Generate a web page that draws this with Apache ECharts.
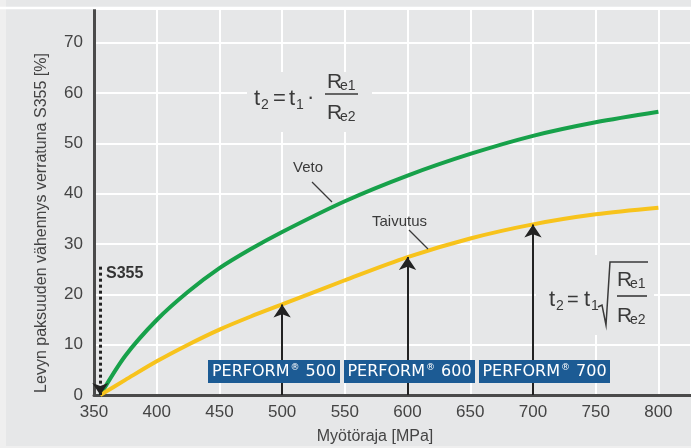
<!DOCTYPE html>
<html><head><meta charset="utf-8">
<script src="https://cdn.jsdelivr.net/npm/echarts@6/dist/echarts.min.js"></script>
<style>html,body{margin:0;padding:0;background:#e6e7e8}#c{width:691px;height:448px}</style>
</head><body><div id="c"></div>
<script>
// ---- data ----
const strength = [355, 375, 400, 425, 450, 475, 500, 550, 600, 650, 700, 750, 800];   // Myötöraja [MPa]
const veto     = [0, 7.8, 14.9, 20.5, 25.2, 29.0, 32.4, 38.5, 43.6, 47.9, 51.5, 54.2, 56.3];
const taivutus = [0, 3.0, 6.7, 10.0, 13.0, 15.6, 18.0, 22.8, 27.4, 31.1, 33.9, 35.9, 37.2];
const performGrades = [500, 600, 700];
const s355Grade = 355;
const s355Top = 25.5;

const FONT = "'Liberation Sans', Arial, sans-serif";
const NARROW = "'Liberation Sans Narrow', 'Liberation Sans', Arial, sans-serif";
const BG = '#e6e7e8';
const TXT = '#3a3a3a';

const chart = echarts.init(document.getElementById('c'), null, {renderer: 'canvas'});

function txt(x, y, s, size, opts) {
  return {
    type: 'text', z: 20, silent: true,
    style: Object.assign({x: x, y: y, text: s, fontSize: size, fontFamily: NARROW, fill: TXT,
      verticalAlign: 'middle', align: 'left'}, (opts && opts.style) || {})
  };
}
function line(x1, y1, x2, y2, w, c) {
  return {type: 'line', z: 20, silent: true, shape: {x1, y1, x2, y2}, style: {stroke: c || TXT, lineWidth: w || 1.5}};
}

const tipOf = g => taivutus[strength.indexOf(g)];

const boxes = [
  {x: 208, w: 132, label: '500'},
  {x: 344, w: 131, label: '600'},
  {x: 479, w: 131, label: '700'}
];

const graphics = [
  {type: 'rect', z: 0, silent: true, shape: {x: 0, y: 0, width: 6, height: 448}, style: {fill: '#efefef'}},
  {type: 'rect', z: 0, silent: true, shape: {x: 0, y: 446, width: 691, height: 2}, style: {fill: '#efefef'}},
  line(0, 8, 691, 8, 2.5, '#ffffff'),
  // masks behind formulas
  {type: 'rect', z: 1, silent: true, shape: {x: 247, y: 72, width: 125, height: 60}, style: {fill: BG}},
  {type: 'rect', z: 1, silent: true, shape: {x: 536, y: 255, width: 118, height: 80}, style: {fill: BG}},
  // formula 1
  txt(254, 99, 't', 22), txt(261, 105, '2', 14), txt(273, 99, '=', 22), txt(289, 99, 't', 22),
  txt(296, 105, '1', 14), txt(307, 98, '·', 22),
  line(325, 94, 358, 94, 1.6),
  txt(327, 82, 'R', 21), txt(340, 86, 'e1', 14),
  txt(327, 113, 'R', 21), txt(340, 117, 'e2', 14),
  // formula 2
  txt(549, 300, 't', 22), txt(556, 306, '2', 14), txt(567, 300, '=', 20), txt(584, 300, 't', 22),
  txt(591, 306, '1', 14),
  {type: 'polyline', z: 20, silent: true, shape: {points: [[598, 307], [602, 305], [606, 325], [610, 262], [648, 262]]},
    style: {stroke: TXT, lineWidth: 1.5, fill: null}},
  line(617, 296, 647, 296, 1.6),
  txt(617, 280, 'R', 21), txt(630, 284, 'e1', 14),
  txt(617, 316, 'R', 21), txt(630, 320, 'e2', 14),
  // curve labels with leaders
  txt(293, 168, 'Veto', 15),
  line(312, 182, 332, 202, 1.2),
  txt(372, 222, 'Taivutus', 15),
  line(409, 230, 428, 249, 1.2),
  // S355
  txt(106, 274, 'S355', 16, {style: {fontFamily: FONT, fontWeight: 'bold', fill: '#333'}}),
  // axis names
  {type: 'text', z: 20, silent: true, rotation: Math.PI / 2, x: 42, y: 223,
    style: {x: 0, y: 0, text: 'Levyn paksuuden vähennys verratuna S355 [%]', fontSize: 16, fontFamily: FONT,
      fill: '#444', align: 'center', verticalAlign: 'middle'}},
  {type: 'text', z: 20, silent: true,
    style: {x: 375, y: 437, text: 'Myötöraja [MPa]', fontSize: 16, fontFamily: FONT,
      fill: '#444', align: 'center', verticalAlign: 'middle'}}
];

boxes.forEach(b => {
  graphics.push({type: 'rect', z: 25, silent: true, shape: {x: b.x, y: 360, width: b.w, height: 23},
    style: {fill: '#1c5b94'}});
  graphics.push({type: 'text', z: 26, silent: true, style: {
    x: b.x + b.w / 2, y: 372, align: 'center', verticalAlign: 'middle',
    text: '{a|PERFORM}{s|®}{a| ' + b.label + '}',
    rich: {
      a: {fontSize: 16, fontFamily: "'DejaVu Sans', sans-serif", fill: '#ffffff', lineHeight: 18},
      s: {fontSize: 9, fontFamily: "'DejaVu Sans', sans-serif", fill: '#ffffff', verticalAlign: 'top', lineHeight: 18, padding: [0, 1, 0, 1]}
    }
  }});
});

const option = {
  animation: false,
  backgroundColor: BG,
  grid: {left: 94, right: 0, top: 9, bottom: 53, containLabel: false},
  xAxis: {
    type: 'value', min: 350, max: 826, interval: 50,
    axisLine: {show: true, lineStyle: {color: '#4a4a4a', width: 3}},
    axisTick: {show: false},
    axisLabel: {fontSize: 17, color: '#444', fontFamily: FONT, margin: 9, showMaxLabel: false},
    splitLine: {show: true, lineStyle: {color: '#ffffff', width: 2}}
  },
  yAxis: {
    type: 'value', min: 0, max: 76.7, interval: 10,
    axisLine: {show: true, lineStyle: {color: '#4a4a4a', width: 3}},
    axisTick: {show: false},
    axisLabel: {fontSize: 17, color: '#444', fontFamily: FONT, margin: 11, showMaxLabel: false},
    splitLine: {show: true, lineStyle: {color: '#ffffff', width: 2}}
  },
  series: [
    {
      name: 'Veto', type: 'line', smooth: 0.3, symbol: 'none', z: 3,
      data: strength.map((x, i) => [x, veto[i]]),
      lineStyle: {color: '#17a14a', width: 4},
      markLine: {
        silent: true, animation: false, symbol: ['none', 'arrow'], symbolSize: 12,
        label: {show: false},
        lineStyle: {color: '#222', width: 3, type: 'dotted'},
        data: [[{coord: [s355Grade, s355Top]}, {coord: [s355Grade, 0]}]]
      }
    },
    {
      name: 'Taivutus', type: 'line', smooth: 0.3, symbol: 'none', z: 3,
      data: strength.map((x, i) => [x, taivutus[i]]),
      lineStyle: {color: '#f7c31c', width: 4},
      markLine: {
        silent: true, animation: false, symbol: ['none', 'arrow'], symbolSize: 13,
        label: {show: false},
        lineStyle: {color: '#222', width: 2, type: 'solid'},
        data: performGrades.map(g => [{coord: [g, 0]}, {coord: [g, tipOf(g)]}])
      }
    }
  ],
  graphic: graphics
};
chart.setOption(option);
</script>
</body></html>
